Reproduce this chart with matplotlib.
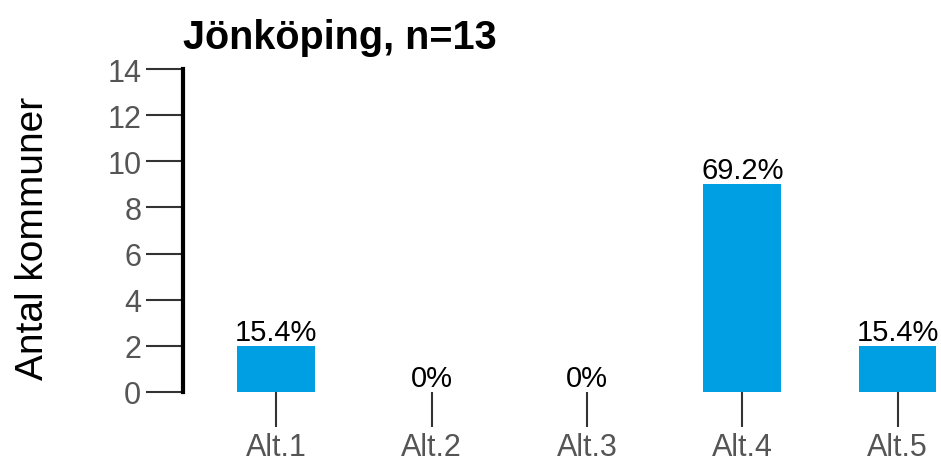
import matplotlib
matplotlib.use("Agg")
import matplotlib.pyplot as plt

categories = ["Alt.1", "Alt.2", "Alt.3", "Alt.4", "Alt.5"]
counts = [2, 0, 0, 9, 2]
labels = ["15.4%", "0%", "0%", "69.2%", "15.4%"]
yticks = [0, 2, 4, 6, 8, 10, 12, 14]

plt.rcParams["font.family"] = ["Liberation Sans", "DejaVu Sans"]

fig = plt.figure(figsize=(9.41, 4.64), dpi=100)
ax = fig.add_axes([183 / 941, 71 / 464, 755 / 941, 323 / 464])

x = list(range(len(categories)))
bars = ax.bar(x, counts, width=0.5, color="#009FE3")
ax.bar_label(bars, labels=labels, padding=0, fontsize=21, color="black")

ax.set_xlim(-0.6, 4.26)
ax.set_ylim(0, 14)
ax.set_xticks(x)
ax.set_xticklabels(categories)
ax.set_yticks(yticks)

for side in ["top", "right", "bottom"]:
    ax.spines[side].set_visible(False)
ax.spines["left"].set_linewidth(3)
ax.spines["left"].set_color("black")

ax.tick_params(axis="y", length=27, width=1.5, color="#333333",
               labelsize=22, labelcolor="#555555", pad=3)
ax.tick_params(axis="x", length=25, width=1.5, color="#333333",
               labelsize=22, labelcolor="#555555", pad=4)

ax.set_ylabel("Antal kommuner", fontsize=28, color="black")
ax.yaxis.set_label_coords(-0.175, 0.48)
ax.set_title("Jönköping, n=13", loc="left", fontsize=28.5,
             fontweight="bold", pad=15)

fig.savefig("out.png", dpi=100)
